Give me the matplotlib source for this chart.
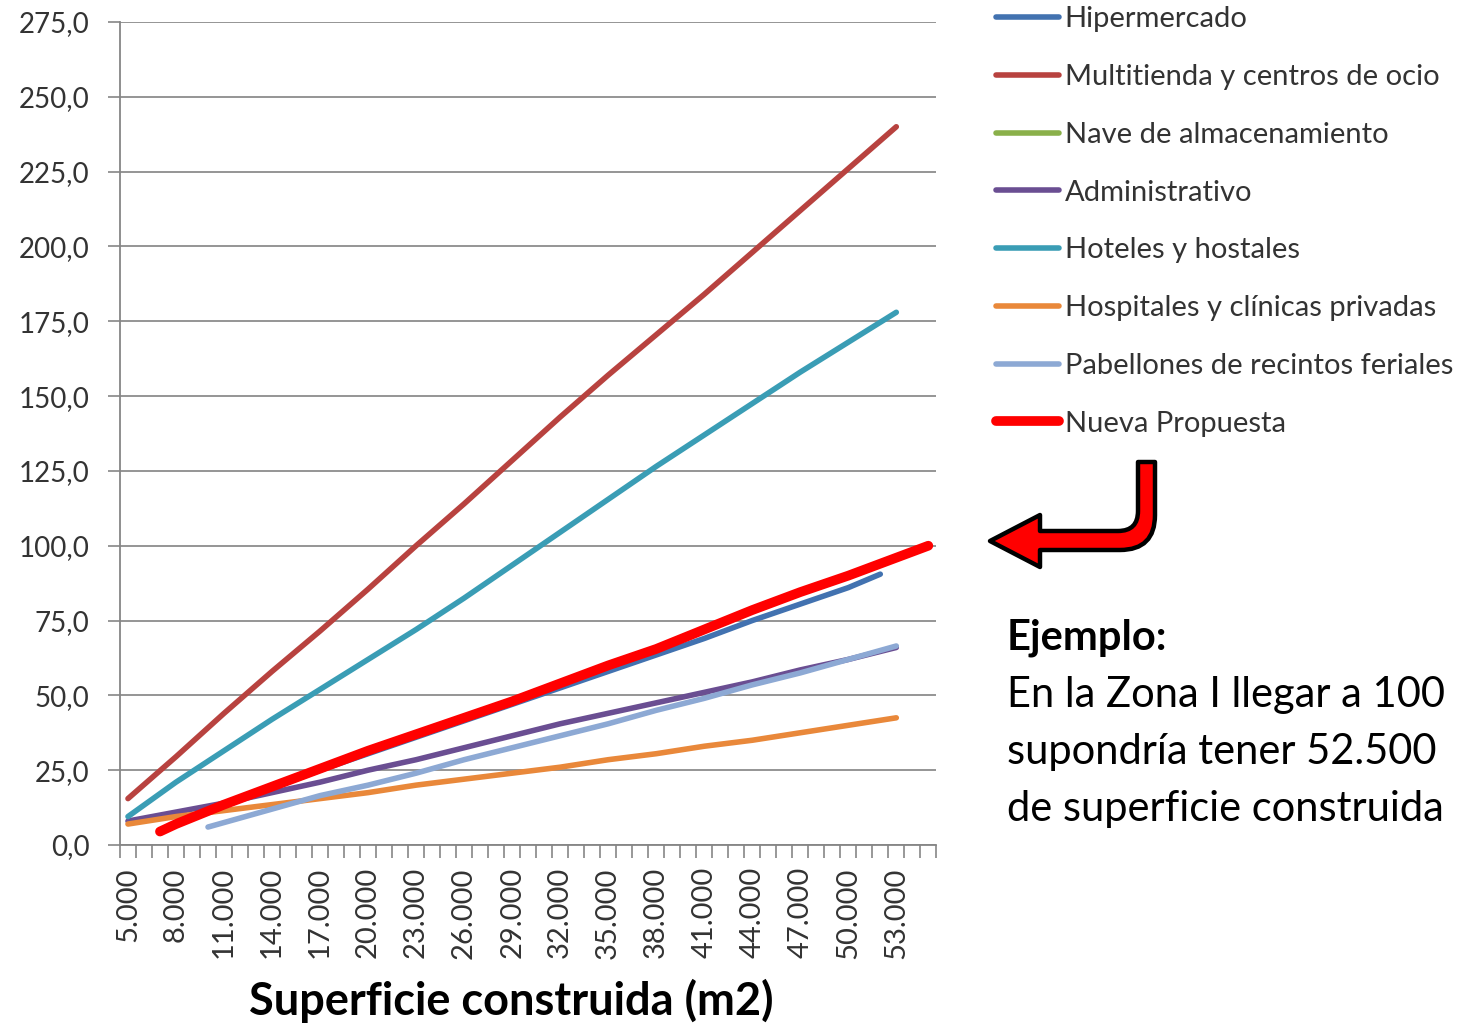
import numpy as np
import matplotlib
matplotlib.use("Agg")
import matplotlib.pyplot as plt
from matplotlib.path import Path
from matplotlib.patches import PathPatch
from matplotlib.ticker import FuncFormatter

plt.rcParams['font.family'] = ['Lato', 'DejaVu Sans']

# superficie construida (m2) at the labelled ticks
x_ticks_lab = [5000, 8000, 11000, 14000, 17000, 20000, 23000, 26000, 29000,
               32000, 35000, 38000, 41000, 44000, 47000, 50000, 53000]

# values
hiper_x = [7000, 8000, 11000, 14000, 17000, 20000, 23000, 26000, 29000,
           32000, 35000, 38000, 41000, 44000, 47000, 50000, 52000]
hiper_y = [4.5, 7, 13, 19, 25, 30.5, 36, 41.5, 47, 52.5, 58, 63.5, 69, 75,
           80.5, 86, 90.5]

multi_x = x_ticks_lab
multi_y = [15.5, 29.5, 44, 58, 71.5, 85.5, 100, 114, 128.5, 143, 157, 170.5,
           184, 198, 212, 226, 240]

nave_x = []
nave_y = []

admin_x = x_ticks_lab
admin_y = [8, 11, 14, 17.5, 21, 25, 28.5, 32.5, 36.5, 40.5, 44, 47.5, 51,
           54.5, 58.5, 62, 66]

hotel_x = x_ticks_lab
hotel_y = [9.5, 21, 31.5, 42, 52, 62, 72, 82.5, 93.5, 104.5, 115.5, 126.5,
           137, 147.5, 158, 168, 178]

hosp_x = x_ticks_lab
hosp_y = [7, 9.5, 11.5, 13.5, 15.5, 17.5, 20, 22, 24, 26, 28.5, 30.5, 33, 35,
          37.5, 40, 42.5]

pab_x = [10000, 11000, 14000, 17000, 20000, 23000, 26000, 29000, 32000,
         35000, 38000, 41000, 44000, 47000, 50000, 53000]
pab_y = [6, 7.5, 12, 16.5, 20, 24, 28.5, 32.5, 36.5, 40.5, 45, 49, 53.5,
         57.5, 62, 66.5]

nueva_x = [7000, 8000, 11000, 14000, 17000, 20000, 23000, 26000, 29000, 32000,
           35000, 38000, 41000, 44000, 47000, 50000, 53000, 55000]
nueva_y = [4.5, 7, 13.5, 19.5, 25.5, 31.5, 37, 42.5, 48, 54, 60, 65.5, 72,
           78.5, 84.5, 90, 96, 100]

fig = plt.figure(figsize=(14.63, 10.23), dpi=100)
ax = fig.add_axes([0.082, 0.174, 0.558, 0.8045])

series = [
    ("Hipermercado", hiper_x, hiper_y, '#4272B0', 4),
    ("Multitienda y centros de ocio", multi_x, multi_y, '#B8423F', 4),
    ("Nave de almacenamiento", nave_x, nave_y, '#8AB04A', 4),
    ("Administrativo", admin_x, admin_y, '#6A4E92', 4),
    ("Hoteles y hostales", hotel_x, hotel_y, '#3A9DB5', 4),
    ("Hospitales y clínicas privadas", hosp_x, hosp_y, '#E9883A', 4),
    ("Pabellones de recintos feriales", pab_x, pab_y, '#8DA9D4', 4),
    ("Nueva Propuesta", nueva_x, nueva_y, '#FF0000', 7),
]
for name, xs, ys, col, lw in series:
    ax.plot(xs, ys, color=col, lw=lw, label=name, solid_capstyle='round',
            solid_joinstyle='round')

ax.set_xlim(4500, 55500)
ax.set_ylim(0, 275)
ax.set_yticks(np.arange(0, 276, 25))
ax.yaxis.set_major_formatter(FuncFormatter(lambda v, _: f"{v:.1f}".replace('.', ',')))
ax.set_xticks(x_ticks_lab)
ax.xaxis.set_major_formatter(FuncFormatter(lambda v, _: f"{int(v):,}".replace(',', '.')))
ax.set_xticks(np.arange(4500, 55501, 1000), minor=True)
ax.tick_params(axis='x', which='major', length=0, rotation=90, pad=16,
               labelsize=21, labelcolor='#333333')
ax.tick_params(axis='x', which='minor', length=9, width=1.2, color='#868686')
ax.tick_params(axis='y', length=9, width=1.2, color='#868686', labelsize=20,
               labelcolor='#333333', pad=13)
ax.grid(axis='y', color='#8c8c8c', lw=1.3)
ax.set_axisbelow(True)
for s in ['top', 'right']:
    ax.spines[s].set_visible(False)
for s in ['left', 'bottom']:
    ax.spines[s].set_color('#868686')
    ax.spines[s].set_linewidth(1.3)

ax.set_xlabel("Superficie construida (m2)", fontsize=32.5, fontweight='bold',
              color='black', va='center')
ax.xaxis.set_label_coords(0.479, -0.189)

fig.legend(loc='upper left', bbox_to_anchor=(0.681, 0.994), frameon=False,
           fontsize=21, handlelength=2.15, handletextpad=0.2, labelspacing=1.09,
           borderpad=0, borderaxespad=0, labelcolor='#333333')

# example annotation
fig.text(1007 / 1463, 1 - 638 / 1023, "Ejemplo:", fontsize=30,
         fontweight='bold', va='center', ha='left')
for i, line in enumerate(["En la Zona I llegar a 100", "supondría tener 52.500",
                          "de superficie construida"]):
    fig.text(1007 / 1463, 1 - (695 + 57 * i) / 1023, line, fontsize=30,
             va='center', ha='left')

# bent red arrow drawn in pixel space
ov = fig.add_axes([0, 0, 1, 1])
ov.set_xlim(0, 1463)
ov.set_ylim(1023, 0)
ov.axis('off')
verts = [(990, 541), (1040, 515), (1040, 531), (1118, 531), (1138, 531),
         (1138, 511), (1138, 462), (1155, 462), (1155, 515), (1155, 550),
         (1120, 550), (1040, 550), (1040, 567), (990, 541)]
codes = [Path.MOVETO, Path.LINETO, Path.LINETO, Path.LINETO, Path.CURVE3,
         Path.CURVE3, Path.LINETO, Path.LINETO, Path.LINETO, Path.CURVE3,
         Path.CURVE3, Path.LINETO, Path.LINETO, Path.CLOSEPOLY]
ov.add_patch(PathPatch(Path(verts, codes), facecolor='#FF0000',
                       edgecolor='black', lw=3.2, joinstyle='round'))

fig.savefig('out.png', dpi=100)
